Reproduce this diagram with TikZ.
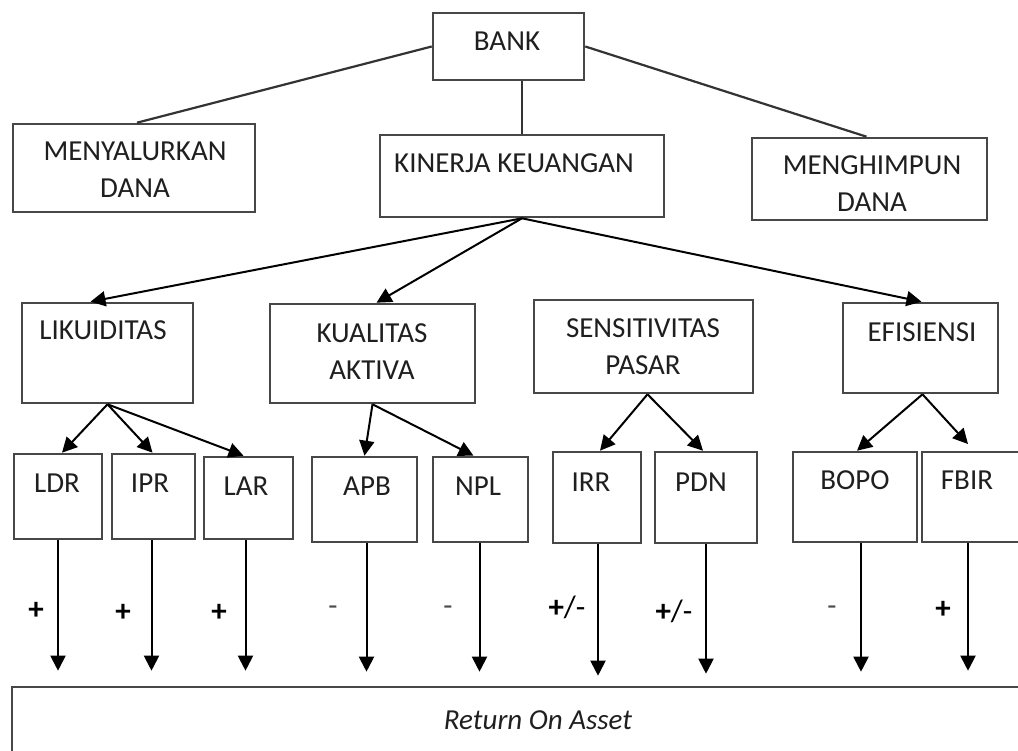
\documentclass[tikz,border=0pt]{standalone}
\usepackage{fontspec}
\setmainfont{Carlito}
\usetikzlibrary{arrows.meta}
\newcommand{\rbox}[5]{\node[box, minimum width={(#4-#2)*1pt}, minimum height={(#5-#3)*1pt}] (#1) at ({(#2+#4)/2},{(#3+#5)/2}) {};}
\begin{document}
\begin{tikzpicture}[x=1pt,y=-1pt,
  box/.style={draw=black!72, line width=2.6pt, rectangle, inner sep=0pt},
  txt/.style={text=black!88, font=\fontsize{29}{37}\selectfont, align=center, inner sep=0pt},
  plus/.style={text=black, font=\fontsize{31}{34}\selectfont\bfseries, inner sep=0pt},
  minus/.style={text=black!70, font=\fontsize{30}{34}\selectfont, inner sep=0pt},
  link/.style={draw=black!80, line width=2.2pt},
  arr/.style={draw=black, line width=2pt, -{Triangle[width=15pt,length=15pt]}},
]
\useasboundingbox (0,0) rectangle (1018,751);
\clip (0,0) rectangle (1018,751);
\fill[white] (0,0) rectangle (1018,751);

% boxes
\rbox{bank}{433}{13}{584}{80}
\rbox{meny}{13}{124}{255}{212}
\rbox{kin}{380}{135}{664}{217}
\rbox{meng}{752}{138}{987}{220}
\rbox{lik}{22}{303}{193}{403}
\rbox{kua}{270}{304}{475}{403}
\rbox{sen}{534}{300}{753}{393}
\rbox{efi}{843}{303}{998}{393}
\rbox{ldr}{14}{454}{102}{539}
\rbox{ipr}{112}{454}{195}{539}
\rbox{lar}{204}{457}{293}{539}
\rbox{apb}{312}{457}{417}{542}
\rbox{npl}{433}{457}{528}{542}
\rbox{irr}{553}{452}{641}{543}
\rbox{pdn}{655}{452}{757}{543}
\rbox{bopo}{793}{452}{917}{542}
\rbox{fbir}{922}{452}{1060}{542}
\rbox{roa}{12}{687}{1060}{800}

% texts
\node[txt] (bankT) at (507,41) {BANK};
\node[txt] (menyT) at (135,170) {MENYALURKAN\\DANA};
\node[txt] (kinT) at (514,163) {KINERJA KEUANGAN};
\node[txt] (mengT) at (872,184) {MENGHIMPUN\\DANA};
\node[txt] (likT) at (103,330) {LIKUIDITAS};
\node[txt] (kuaT) at (372,352) {KUALITAS\\AKTIVA};
\node[txt] (senT) at (643,347) {SENSITIVITAS\\PASAR};
\node[txt] (efiT) at (922,332) {EFISIENSI};
\node[txt] (ldrT) at (57,483) {LDR};
\node[txt] (iprT) at (150,483) {IPR};
\node[txt] (larT) at (246,486) {LAR};
\node[txt] (apbT) at (367,486) {APB};
\node[txt] (nplT) at (478,486) {NPL};
\node[txt] (irrT) at (591,482) {IRR};
\node[txt] (pdnT) at (701,482) {PDN};
\node[txt] (bopoT) at (855,480) {BOPO};
\node[txt] (fbirT) at (967,480) {FBIR};
\node[txt, font=\fontsize{29}{34}\selectfont\itshape] (roaT) at (538,720) {Return On Asset};

% plain links
\draw[link] (bank.west) -- ([xshift=3pt]meny.north);
\draw[link] (kin.north |- bank.south) -- (kin.north);
\draw[link] (bank.east) -- ([xshift=-3pt]meng.north);

% arrows from KINERJA
\draw[arr] (kin.south) -- ([xshift=-17pt]lik.north);
\draw[arr] (kin.south) -- ([xshift=4pt]kua.north);
\draw[arr] (kin.south) -- ([xshift=1pt]efi.north);

% second level
\draw[arr] (lik.south) -- ([xshift=4pt]ldr.north);
\draw[arr] (lik.south) -- ([xshift=-1pt]ipr.north);
\draw[arr] (lik.south) -- ([xshift=-5pt]lar.north);
\draw[arr] (kua.south) -- (apb.north);
\draw[arr] (kua.south) -- ([xshift=-7pt]npl.north);
\draw[arr] ([xshift=4pt]sen.south) -- ([xshift=3pt]irr.north);
\draw[arr] ([xshift=4pt]sen.south) -- ([xshift=-3pt]pdn.north);
\coordinate (fbirin) at (968,444);
\draw[arr] ([xshift=2pt]efi.south) -- ([xshift=2pt]bopo.north);
\draw[arr] ([xshift=2pt]efi.south) -- (fbirin);

% arrows to ROA
\draw[arr, shorten >=15pt] (ldr.south) -- (ldr.south |- roa.north);
\draw[arr, shorten >=15pt] ([xshift=-2pt]ipr.south) -- ([xshift=-2pt]ipr.south |- roa.north);
\draw[arr, shorten >=15pt] ([xshift=-3pt]lar.south) -- ([xshift=-3pt]lar.south |- roa.north);
\draw[arr, shorten >=14pt] ([xshift=2pt]apb.south) -- ([xshift=2pt]apb.south |- roa.north);
\draw[arr, shorten >=14pt] ([xshift=-1pt]npl.south) -- ([xshift=-1pt]npl.south |- roa.north);
\draw[arr, shorten >=10pt] ([xshift=1pt]irr.south) -- ([xshift=1pt]irr.south |- roa.north);
\draw[arr, shorten >=12pt] (pdn.south) -- (pdn.south |- roa.north);
\draw[arr, shorten >=14pt] ([xshift=6pt]bopo.south) -- ([xshift=6pt]bopo.south |- roa.north);
\draw[arr, shorten >=15pt] (fbir.south -| fbirin) -- (fbirin |- roa.north);

% signs
\node[plus] (s1) at (36,611) {+};
\node[plus] (s2) at (123,613) {+};
\node[plus] (s3) at (219,613) {+};
\node[minus] (s4) at (333,611) {-};
\node[minus] (s5) at (448,611) {-};
\node[plus, font=\fontsize{31}{34}\selectfont] (s6) at (567,607) {\textbf{+}/-};
\node[plus, font=\fontsize{31}{34}\selectfont] (s7) at (674,611) {\textbf{+}/-};
\node[minus] (s8) at (832,611) {-};
\node[plus] (s9) at (943,610) {+};
\end{tikzpicture}
\end{document}
